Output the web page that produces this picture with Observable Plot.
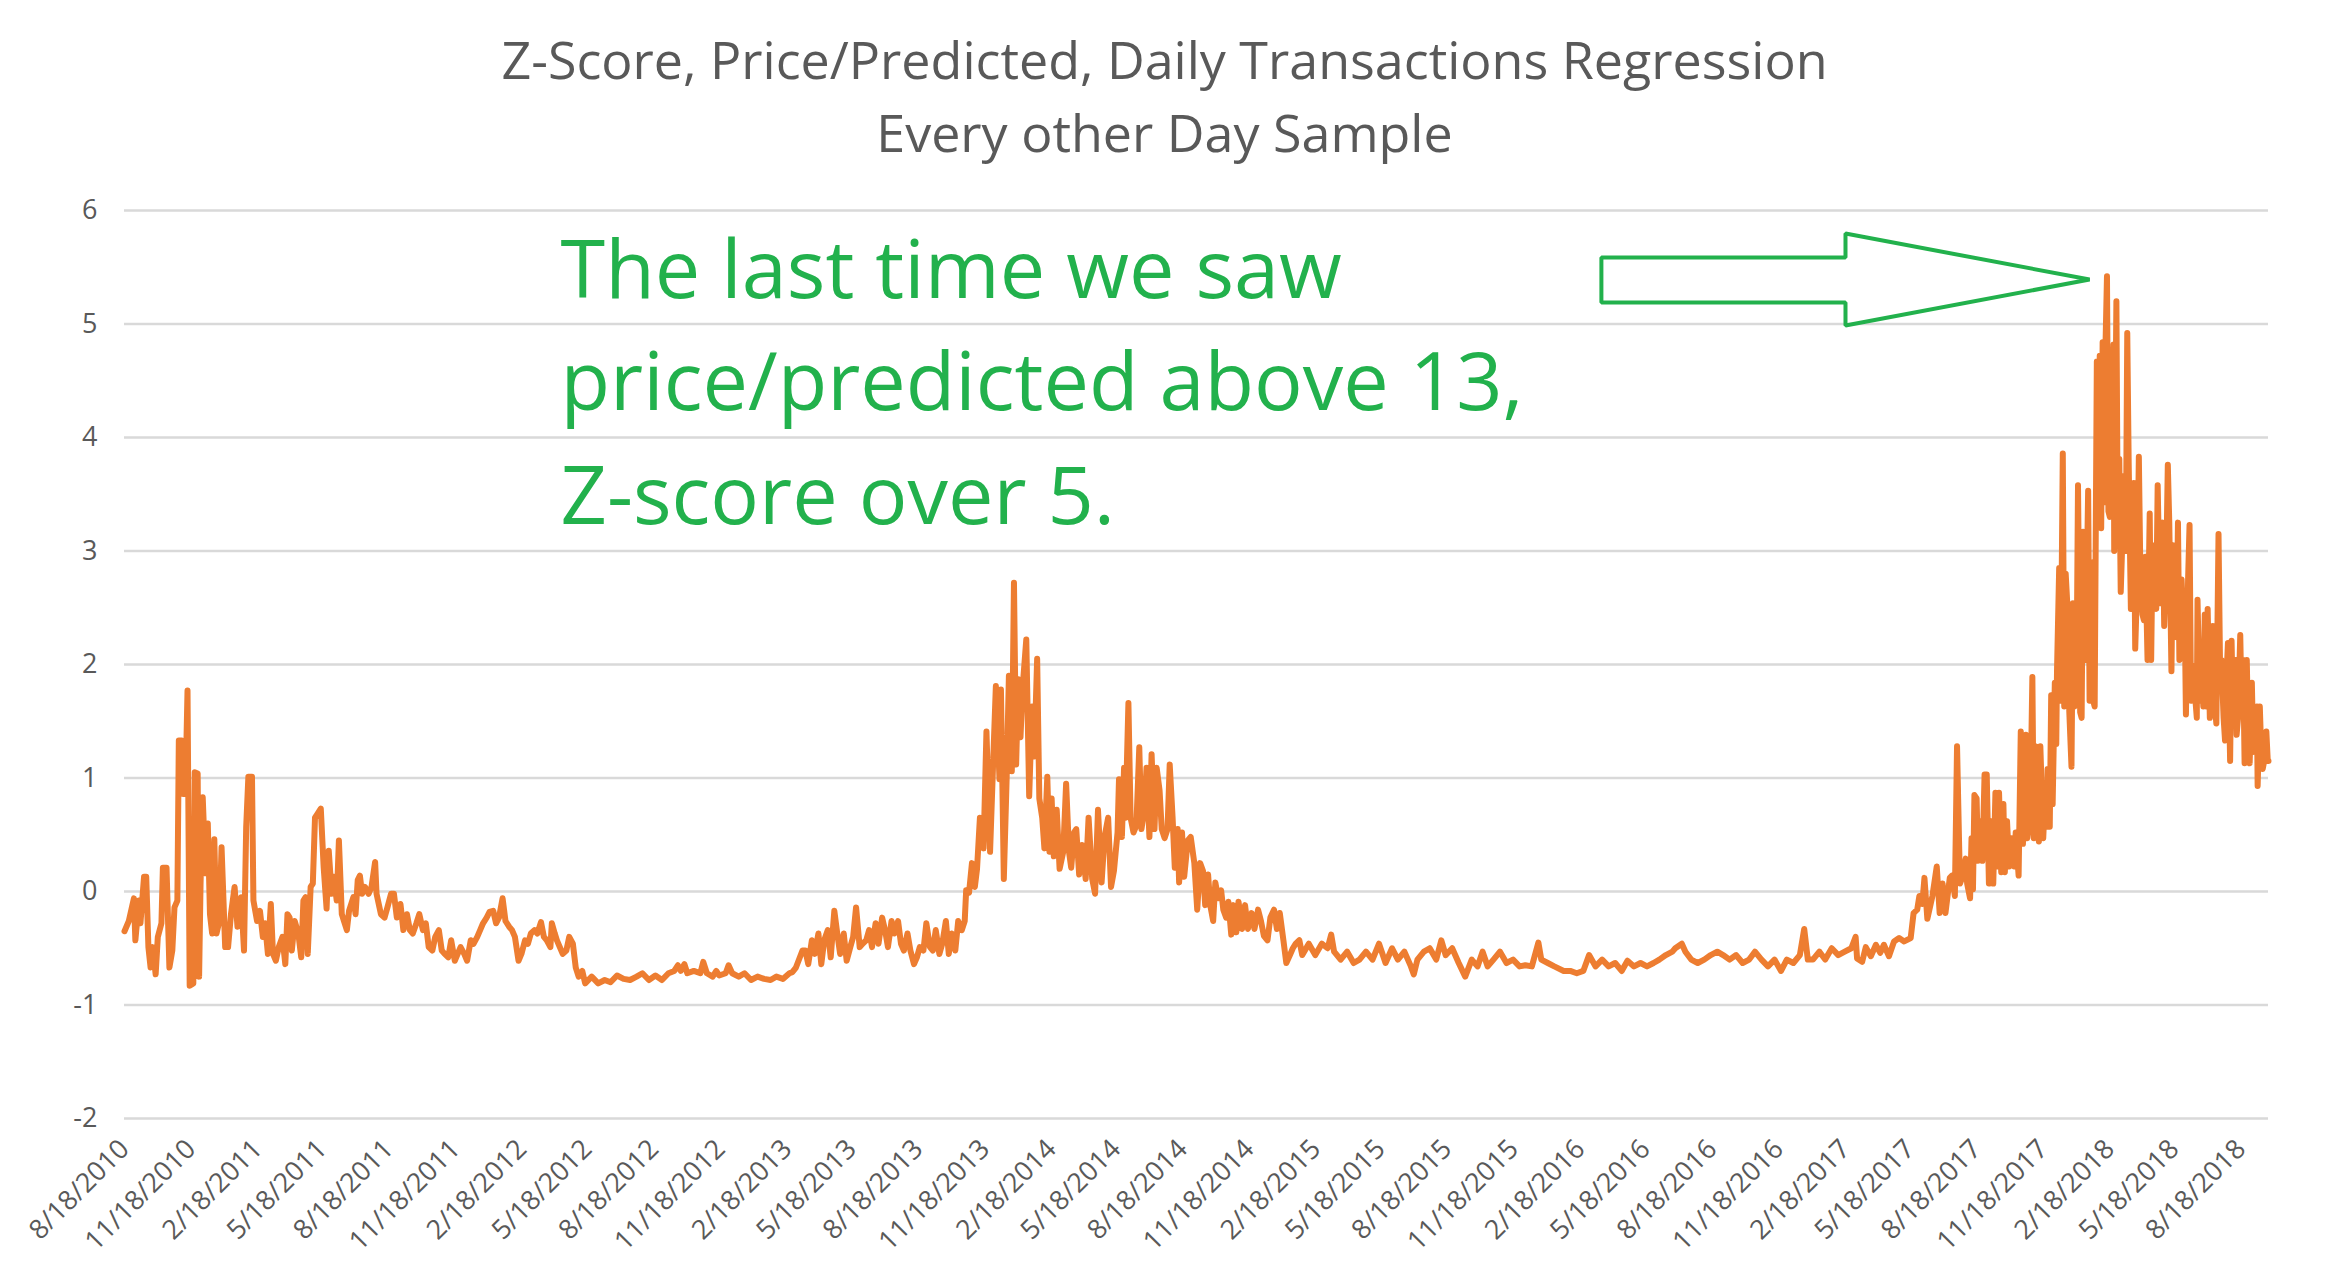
<!DOCTYPE html>
<html>
<head>
<meta charset="utf-8">
<script src="https://cdn.jsdelivr.net/npm/d3@7"></script>
<script src="https://cdn.jsdelivr.net/npm/@observablehq/plot@0.6"></script>
<style>
html, body { margin: 0; padding: 0; background: #ffffff; }
#title { width: 2329px; height: 180px; box-sizing: border-box; padding-top: 22px; text-align: center;
  font-family: "Open Sans", sans-serif; font-size: 52px; line-height: 73px; color: #595959; }
#chart svg { display: block; }
</style>
</head>
<body>
<div id="title"></div>
<div id="chart"></div>
<script>
// ---------- data ----------
const titleLines = ["Z-Score, Price/Predicted, Daily Transactions Regression", "Every other Day Sample"];
const seriesStart = "8/18/2010";
const axisEnd = "9/25/2018";
const tickLabels = ["8/18/2010","11/18/2010","2/18/2011","5/18/2011","8/18/2011","11/18/2011","2/18/2012","5/18/2012",
  "8/18/2012","11/18/2012","2/18/2013","5/18/2013","8/18/2013","11/18/2013","2/18/2014","5/18/2014","8/18/2014",
  "11/18/2014","2/18/2015","5/18/2015","8/18/2015","11/18/2015","2/18/2016","5/18/2016","8/18/2016","11/18/2016",
  "2/18/2017","5/18/2017","8/18/2017","11/18/2017","2/18/2018","5/18/2018","8/18/2018"];
const yTicks = [-2, -1, 0, 1, 2, 3, 4, 5, 6];
// [days since 8/18/2010, z-score]
const zScorePoints = [
[0,-0.35],[6,-0.26],[13,-0.06],[15,-0.43],[20,-0.08],[22,-0.28],[27,0.13],[30,0.13],[33,-0.49],[36,-0.67],[39,-0.49],[43,-0.73],[46,-0.40],[51,-0.28],[53,0.21],[58,0.21],[62,-0.67],[66,-0.52],[69,-0.14],[73,-0.08],[75,1.33],[79,1.33],[81,0.86],[84,0.86],[87,1.77],[90,-0.83],[95,-0.81],[97,1.05],[101,1.04],[103,-0.75],[105,0.07],[108,0.83],[112,0.16],[115,0.60],[118,-0.20],[121,-0.37],[124,0.46],[127,-0.37],[131,-0.26],[134,0.39],[139,-0.49],[143,-0.49],[147,-0.20],[152,0.04],[156,-0.31],[161,-0.05],[165,-0.52],[168,0.57],[171,1.01],[176,1.01],[178,-0.08],[183,-0.26],[187,-0.17],[191,-0.40],[194,-0.28],[198,-0.55],[202,-0.11],[205,-0.55],[209,-0.61],[213,-0.49],[218,-0.40],[222,-0.64],[225,-0.20],[228,-0.23],[231,-0.52],[235,-0.26],[240,-0.37],[244,-0.58],[247,-0.08],[250,-0.05],[253,-0.55],[257,0.04],[260,0.07],[263,0.65],[266,0.68],[271,0.73],[275,0.21],[279,-0.15],[282,0.36],[286,-0.02],[289,0.13],[293,-0.08],[296,0.45],[300,-0.20],[303,-0.26],[307,-0.34],[310,-0.17],[316,-0.05],[319,-0.20],[322,0.10],[325,0.14],[328,-0.02],[332,0.04],[337,-0.02],[341,0.04],[346,0.26],[348,-0.02],[354,-0.20],[359,-0.23],[363,-0.14],[368,-0.02],[372,-0.02],[376,-0.23],[381,-0.11],[385,-0.34],[390,-0.20],[394,-0.34],[398,-0.37],[403,-0.28],[407,-0.20],[412,-0.34],[416,-0.28],[420,-0.49],[425,-0.52],[429,-0.40],[434,-0.34],[438,-0.52],[442,-0.55],[447,-0.58],[451,-0.43],[456,-0.61],[460,-0.55],[464,-0.49],[469,-0.55],[473,-0.61],[478,-0.43],[482,-0.46],[487,-0.40],[491,-0.34],[495,-0.28],[500,-0.23],[504,-0.18],[509,-0.17],[513,-0.28],[517,-0.23],[522,-0.06],[526,-0.26],[531,-0.31],[535,-0.34],[539,-0.40],[544,-0.61],[548,-0.55],[553,-0.43],[557,-0.46],[561,-0.37],[566,-0.34],[570,-0.37],[575,-0.27],[579,-0.40],[583,-0.43],[588,-0.49],[590,-0.28],[594,-0.37],[597,-0.43],[601,-0.49],[605,-0.55],[610,-0.52],[614,-0.40],[619,-0.46],[623,-0.67],[627,-0.75],[632,-0.70],[636,-0.81],
[645,-0.75],[654,-0.81],[663,-0.78],[671,-0.80],[680,-0.74],[689,-0.77],[698,-0.78],[707,-0.75],[715,-0.72],[724,-0.78],[733,-0.74],[742,-0.78],[751,-0.72],[759,-0.70],[764,-0.65],[768,-0.70],[773,-0.64],[777,-0.72],[786,-0.70],[795,-0.72],[799,-0.62],[804,-0.72],[812,-0.75],[817,-0.70],[821,-0.74],[830,-0.72],[834,-0.65],[839,-0.72],[848,-0.75],[856,-0.72],[865,-0.78],[874,-0.75],[883,-0.77],[892,-0.78],[900,-0.75],[909,-0.77],[918,-0.72],[922,-0.71],
[927,-0.67],[936,-0.52],[940,-0.52],[944,-0.64],[949,-0.43],[953,-0.55],[958,-0.37],[962,-0.64],[966,-0.43],[971,-0.34],[975,-0.58],[980,-0.17],[984,-0.37],[988,-0.55],[993,-0.37],[997,-0.61],[1002,-0.49],[1006,-0.40],[1010,-0.14],[1015,-0.49],[1019,-0.46],[1024,-0.43],[1028,-0.34],[1032,-0.49],[1037,-0.28],[1041,-0.46],[1046,-0.23],[1050,-0.34],[1054,-0.49],[1059,-0.26],[1063,-0.37],[1068,-0.26],[1072,-0.46],[1076,-0.52],[1081,-0.37],[1085,-0.52],[1090,-0.64],[1094,-0.58],[1098,-0.49],[1103,-0.52],[1107,-0.28],[1112,-0.49],[1116,-0.52],[1120,-0.34],[1125,-0.55],[1129,-0.46],[1134,-0.26],[1138,-0.55],[1142,-0.37],[1147,-0.52],[1151,-0.26],[1156,-0.34],[1160,-0.26],
[1162,0.01],[1166,-0.01],[1170,0.25],[1174,0.04],[1177,0.20],[1181,0.65],[1186,0.38],[1190,1.41],[1195,0.35],[1199,1.09],[1203,1.81],[1208,0.99],[1210,1.78],[1214,0.11],[1218,1.02],[1221,1.90],[1225,1.06],[1228,2.72],[1231,1.12],[1234,1.87],[1237,1.36],[1240,1.80],[1245,2.22],[1249,0.84],[1253,1.63],[1256,1.19],[1260,2.05],[1263,0.82],[1267,0.65],[1270,0.38],[1274,1.01],[1277,0.35],[1280,0.82],[1283,0.31],[1287,0.72],[1291,0.20],[1296,0.35],[1300,0.95],[1304,0.35],[1307,0.21],[1311,0.52],[1314,0.55],[1318,0.15],[1322,0.41],[1327,0.11],[1331,0.65],[1336,0.11],[1340,-0.02],[1344,0.72],[1349,0.08],[1353,0.48],[1358,0.65],[1362,0.04],[1366,0.18],[1371,0.52],[1373,0.99],[1377,0.48],[1380,1.09],[1382,0.65],[1386,1.66],[1389,0.65],[1393,0.52],[1397,0.58],[1401,1.27],[1404,0.55],[1408,0.72],[1411,1.09],[1415,0.48],[1418,1.21],[1422,0.55],[1425,1.09],[1429,0.89],[1432,0.55],[1436,0.47],[1440,0.55],[1443,1.12],[1447,0.65],[1450,0.21],[1454,0.55],[1456,0.08],[1460,0.52],[1463,0.13],[1468,0.45],[1472,0.48],[1477,0.25],[1481,-0.16],[1485,0.25],[1489,0.18],[1492,-0.12],[1496,0.15],[1499,-0.12],[1503,-0.26],[1506,0.08],[1510,-0.06],[1514,0.01],[1517,-0.16],[1521,-0.23],[1524,-0.09],[1528,-0.38],[1531,-0.12],[1535,-0.36],[1538,-0.09],[1543,-0.33],[1547,-0.12],[1551,-0.33],[1556,-0.19],[1560,-0.33],[1565,-0.16],[1569,-0.26],[1573,-0.39],[1578,-0.43],[1582,-0.23],[1587,-0.16],[1591,-0.33],[1595,-0.19],[1600,-0.43],[1604,-0.63],[1609,-0.56],[1613,-0.50],[1617,-0.46],[1622,-0.43],[1626,-0.56],[1635,-0.46],[1644,-0.56],[1653,-0.46],[1661,-0.50],[1666,-0.38],[1670,-0.53],[1679,-0.60],[1688,-0.53],[1697,-0.63],[1705,-0.60],[1714,-0.53],[1723,-0.60],[1732,-0.46],[1741,-0.63],[1750,-0.50],[1758,-0.60],[1767,-0.53],[1776,-0.66],[1780,-0.73],[1785,-0.60],[1794,-0.53],[1802,-0.50],[1811,-0.60],[1818,-0.43],[1824,-0.56],[1833,-0.50],[1842,-0.63],[1851,-0.75],[1860,-0.60],[1868,-0.66],[1875,-0.53],[1882,-0.66],[1890,-0.60],[1899,-0.53],[1908,-0.63],[1917,-0.60],[1926,-0.66],[1934,-0.65],[1943,-0.66],[1952,-0.45],[1956,-0.60],[1965,-0.63],[1974,-0.66],[1987,-0.70],[1996,-0.70],[2005,-0.72],[2014,-0.70],[2022,-0.56],[2031,-0.66],[2040,-0.60],[2049,-0.66],[2058,-0.63],[2067,-0.70],[2075,-0.61],[2084,-0.66],[2093,-0.63],[2102,-0.66],[2111,-0.63],[2119,-0.60],[2128,-0.56],[2137,-0.53],[2141,-0.50],[2150,-0.46],[2155,-0.53],[2163,-0.60],[2172,-0.63],[2181,-0.60],[2190,-0.56],[2199,-0.53],[2207,-0.56],[2216,-0.60],[2225,-0.56],[2234,-0.63],[2243,-0.60],[2251,-0.53],[2260,-0.60],[2269,-0.66],[2278,-0.60],[2287,-0.70],[2295,-0.60],[2304,-0.63],[2313,-0.56],[2319,-0.33],[2324,-0.60],[2331,-0.60],[2340,-0.53],[2348,-0.60],[2357,-0.50],[2366,-0.56],[2375,-0.53],[2384,-0.50],[2390,-0.40],
[2392,-0.59],[2399,-0.62],[2404,-0.49],[2411,-0.57],[2418,-0.47],[2424,-0.54],[2429,-0.47],[2436,-0.57],[2443,-0.44],[2450,-0.41],[2457,-0.44],[2466,-0.41],[2470,-0.19],[2475,-0.16],[2478,-0.04],[2482,-0.11],[2485,0.12],[2489,-0.24],[2496,-0.04],[2502,0.22],[2506,-0.19],[2510,0.07],[2514,-0.19],[2520,0.12],[2523,0.14],[2527,-0.04],[2530,1.28],[2534,0.07],[2537,0.12],[2542,0.29],[2544,0.07],[2548,-0.06],[2550,0.47],[2552,0.02],[2554,0.85],[2557,0.82],[2559,0.27],[2563,0.62],[2565,0.27],[2568,1.03],[2571,1.03],[2574,0.07],[2577,0.62],[2580,0.07],[2583,0.87],[2586,0.22],[2588,0.87],[2591,0.17],[2594,0.77],[2596,0.17],[2599,0.62],[2602,0.22],[2605,0.47],[2609,0.22],[2611,0.52],[2615,0.14],[2618,1.41],[2621,0.42],[2625,1.38],[2627,0.47],[2631,0.67],[2634,1.89],[2636,0.47],[2638,1.28],[2641,0.62],[2643,0.44],[2645,1.28],[2649,0.47],[2651,0.77],[2654,0.57],[2655,1.08],[2658,0.57],[2660,1.73],[2662,0.77],[2665,1.84],[2667,1.30],[2668,1.94],[2671,2.85],[2673,1.68],[2676,3.86],[2678,1.63],[2680,2.80],[2683,2.44],[2685,1.58],[2688,1.10],[2690,2.54],[2692,1.63],[2695,1.89],[2697,3.58],[2700,1.58],[2702,1.53],[2704,3.17],[2707,2.04],[2708,2.29],[2711,3.53],[2713,1.68],[2715,2.90],[2718,1.68],[2720,1.63],[2723,4.67],[2725,3.25],[2727,4.72],[2729,3.20],[2731,4.84],[2734,3.43],[2735,4.82],[2737,5.42],[2739,3.35],[2741,3.30],[2743,3.91],[2746,4.82],[2747,3.00],[2750,5.20],[2752,3.05],[2754,3.81],[2756,2.64],[2758,3.05],[2760,3.66],[2763,3.00],[2765,4.92],[2767,3.76],[2770,2.49],[2772,3.25],[2774,3.60],[2776,2.14],[2779,2.80],[2781,3.83],[2783,2.85],[2786,2.44],[2788,2.39],[2790,2.95],[2793,2.04],[2796,3.33],[2798,2.04],[2800,3.05],[2803,2.54],[2805,2.49],[2807,3.58],[2810,2.54],[2812,2.95],[2814,3.25],[2816,2.34],[2819,2.95],[2821,3.76],[2823,3.25],[2826,1.94],[2828,3.05],[2830,2.75],[2833,2.24],[2835,3.25],[2837,2.04],[2840,2.75],[2842,2.44],[2844,2.64],[2846,1.56],[2849,2.75],[2851,3.23],[2853,1.68],[2856,1.99],[2858,1.78],[2861,1.53],[2862,2.57],[2865,1.68],[2868,1.94],[2870,1.63],[2872,2.44],[2874,1.63],[2876,2.49],[2879,1.53],[2881,1.94],[2883,2.34],[2886,1.63],[2888,1.48],[2891,3.15],[2893,2.04],[2895,2.04],[2898,1.53],[2900,1.33],[2902,1.89],[2904,2.19],[2907,1.15],[2909,2.21],[2911,1.53],[2914,2.04],[2916,1.38],[2918,1.53],[2921,2.26],[2923,1.58],[2925,2.04],[2927,1.13],[2930,2.04],[2932,1.38],[2934,1.13],[2937,1.84],[2939,1.23],[2941,1.33],[2944,1.63],[2945,0.93],[2948,1.63],[2950,1.23],[2952,1.08],[2955,1.18],[2957,1.41],[2959,1.15],[2960,1.15]
];
// annotation, in data units: [days since start, z-score]
const annotationLines = ["The last time we saw", "price/predicted above 13,", "Z-score over 5."];
const annotationDay = 602;
const annotationBaselines = [5.233, 4.238, 3.242];
const arrowOutline = [[2039,5.586],[2376,5.586],[2376,5.797],[2713,5.392],[2376,4.987],[2376,5.189],[2039,5.189]];

// ---------- helpers ----------
const parseMDY = s => { const [m, d, y] = s.split("/").map(Number); return new Date(Date.UTC(y, m - 1, d)); };
const fmtMDY = d => `${d.getUTCMonth() + 1}/${d.getUTCDate()}/${d.getUTCFullYear()}`;
const start = parseMDY(seriesStart);
const dayToDate = n => new Date(start.getTime() + n * 864e5);

const series = zScorePoints.map(([n, z]) => ({date: dayToDate(n), z}));
const tickDates = tickLabels.map(parseMDY);
const annotation = annotationLines.map((text, i) => ({date: dayToDate(annotationDay), z: annotationBaselines[i], text}));
const arrow = arrowOutline.map(([n, z]) => ({date: dayToDate(n), z}));

document.getElementById("title").innerHTML = titleLines.map(t => `<div>${t}</div>`).join("");

const green = "#22b14c";
const chart = Plot.plot({
  width: 2329,
  height: 1104,
  marginLeft: 124,
  marginRight: 61,
  marginTop: 30,
  marginBottom: 166,
  style: {fontFamily: "'Open Sans', sans-serif", color: "#595959", background: "#ffffff", overflow: "visible"},
  x: {type: "utc", domain: [start, parseMDY(axisEnd)], label: null},
  y: {domain: [-2, 6], label: null},
  marks: [
    Plot.gridY({ticks: yTicks, stroke: "#d9d9d9", strokeOpacity: 1, strokeWidth: 2.5}),
    Plot.axisY({ticks: yTicks, tickSize: 0, tickPadding: 27, fontSize: 27, label: null, tickFormat: d => String(d)}),
    Plot.axisX({ticks: tickDates, tickSize: 0, tickPadding: 26, tickRotate: -45, fontSize: 27, label: null, tickFormat: fmtMDY}),
    Plot.line(series, {x: "date", y: "z", stroke: "#ed7d31", strokeWidth: 6, strokeLinejoin: "round", strokeLinecap: "round"}),
    Plot.line(arrow, {x: "date", y: "z", curve: "linear-closed", stroke: green, strokeWidth: 4, strokeLinejoin: "miter"}),
    Plot.text(annotation, {x: "date", y: "z", text: "text", textAnchor: "start", lineAnchor: "bottom", fontSize: 81, fill: green})
  ]
});
document.getElementById("chart").appendChild(chart);
</script>
</body>
</html>
